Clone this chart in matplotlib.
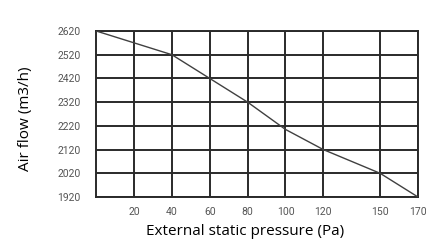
import matplotlib.pyplot as plt

pressure = [0, 20, 40, 60, 80, 100, 120, 150, 170]
airflow = [2620, 2570, 2520, 2420, 2320, 2205, 2120, 2020, 1920]

xticks = [20, 40, 60, 80, 100, 120, 150, 170]
yticks = [1920, 2020, 2120, 2220, 2320, 2420, 2520, 2620]

fig = plt.figure(figsize=(4.27, 2.40), dpi=100)
ax = fig.add_axes([0.225, 0.179, 0.754, 0.692])

ax.plot(pressure, airflow, color='#404040', lw=1.0, zorder=3)

ax.set_xlim(0, 170)
ax.set_ylim(1920, 2620)
ax.set_xticks(xticks)
ax.set_yticks(yticks)
ax.grid(True, color='#2a2a2a', lw=1.4)
for s in ax.spines.values():
    s.set_color('#2a2a2a')
    s.set_linewidth(1.4)
ax.tick_params(length=0, labelsize=7.5, labelcolor='#555555')
ax.tick_params(axis='y', pad=11)
ax.tick_params(axis='x', pad=7)
for lab in ax.get_xticklabels() + ax.get_yticklabels():
    lab.set_family('Roboto')

ax.set_xlabel('External static pressure (Pa)', fontsize=11, family='Open Sans')
ax.set_ylabel('Air flow (m3/h)', fontsize=11, family='Open Sans')
ax.xaxis.set_label_coords(0.464, -0.16)
ax.yaxis.set_label_coords(-0.195, 0.47)

fig.savefig('out.png', dpi=100)
